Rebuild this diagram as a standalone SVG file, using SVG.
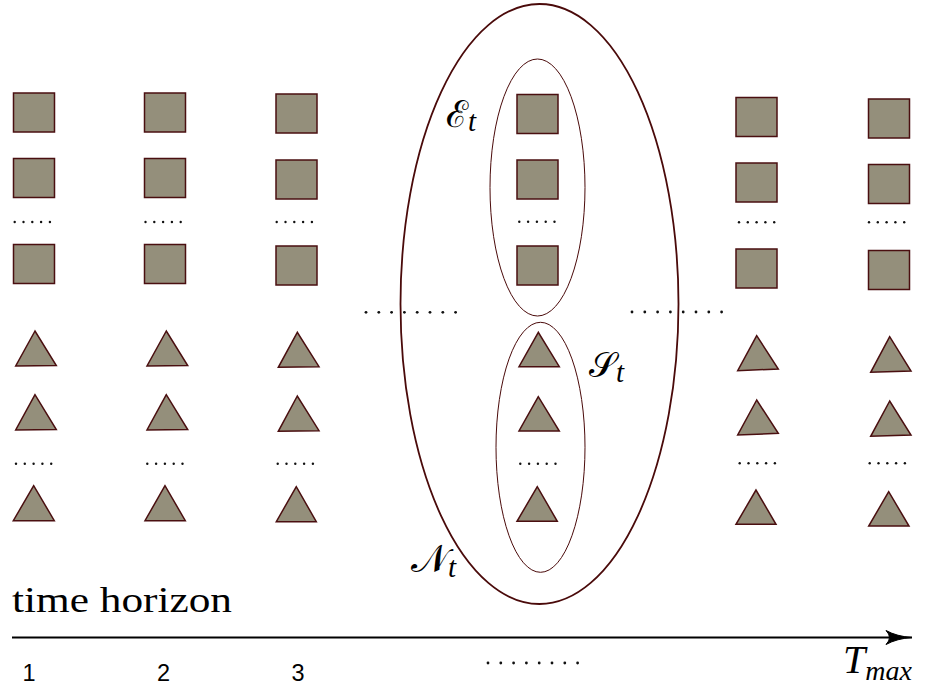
<svg xmlns="http://www.w3.org/2000/svg" xmlns:xlink="http://www.w3.org/1999/xlink" width="930" height="689" viewBox="0 0 930 689">
<style>
.sq{fill:#948f7b;stroke:#4a0f10;stroke-width:1.5}
.tri{fill:#948f7b;stroke:#4a0f10;stroke-width:1.5;stroke-linejoin:miter}
.ell{fill:none;stroke:#4a0a0a}
.dot{fill:#111}
.cal{font-family:"DejaVu Serif","Liberation Serif",serif;fill:#000}
.it{font-family:"Liberation Serif","DejaVu Serif",serif;font-style:italic;fill:#000}
.rm{font-family:"Liberation Serif","DejaVu Serif",serif;fill:#000}
.num{font-family:"Liberation Sans","DejaVu Sans",sans-serif;fill:#000;font-size:23.5px}
</style>
<defs>
<g id="d5"><circle class="dot" cx="0" cy="0" r="1.2"/><circle class="dot" cx="8.8" cy="0" r="1.2"/><circle class="dot" cx="17.6" cy="0" r="1.2"/><circle class="dot" cx="26.4" cy="0" r="1.2"/><circle class="dot" cx="35.2" cy="0" r="1.2"/></g>
<g id="d8"><circle class="dot" cx="0" cy="0" r="1.4"/><circle class="dot" cx="12.8" cy="0" r="1.4"/><circle class="dot" cx="25.6" cy="0" r="1.4"/><circle class="dot" cx="38.4" cy="0" r="1.4"/><circle class="dot" cx="51.2" cy="0" r="1.4"/><circle class="dot" cx="64" cy="0" r="1.4"/><circle class="dot" cx="76.8" cy="0" r="1.4"/><circle class="dot" cx="89.6" cy="0" r="1.4"/></g>
<marker id="arr" markerUnits="userSpaceOnUse" markerWidth="30" markerHeight="20" refX="27" refY="8" orient="auto" viewBox="0 0 30 16">
<path d="M27,8 Q12,9 1,15 Q8,8 1,1 Q12,7 27,8 Z" fill="#000" stroke="#000" stroke-width="1"/>
</marker>
</defs>

<!-- ellipses -->
<g id="N_t">
<ellipse class="ell" cx="539.5" cy="304" rx="139" ry="300" stroke-width="1.8"/>
<text x="411" y="572"><tspan class="cal" font-size="39">𝒩</tspan><tspan class="it" font-size="29" dy="5">t</tspan></text>
</g>
<g id="E_t">
<ellipse class="ell" cx="537.5" cy="187.5" rx="47.5" ry="128.5" stroke-width="1"/>
<text x="446" y="127"><tspan class="cal" font-size="37">ℰ</tspan><tspan class="it" font-size="29" dy="4">t</tspan></text>
</g>
<g id="S_t">
<ellipse class="ell" cx="540.5" cy="447.3" rx="44.5" ry="125" stroke-width="1"/>
<text x="589" y="377"><tspan class="cal" font-size="35">𝒮</tspan><tspan class="it" font-size="29" dy="5">t</tspan></text>
</g>

<!-- column 1 -->
<g id="col1">
<rect id="c1s1" class="sq" x="13.5" y="93" width="41" height="39"/>
<rect id="c1s2" class="sq" x="13.5" y="158.5" width="41" height="39"/>
<use xlink:href="#d5" x="14.7" y="222"/>
<rect id="c1s3" class="sq" x="13.5" y="244.5" width="41" height="39"/>
<polygon id="c1t1" class="tri" points="35,331 15.7,366 56.3,365.5"/>
<polygon id="c1t2" class="tri" points="35,394.7 15.7,430 56.3,429.5"/>
<use xlink:href="#d5" x="16" y="463.7"/>
<polygon id="c1t3" class="tri" points="33.7,485.7 13.3,520.7 54.3,520.7"/>
</g>
<!-- column 2 -->
<g id="col2">
<rect id="c2s1" class="sq" x="144.5" y="93" width="41" height="39"/>
<rect id="c2s2" class="sq" x="144.5" y="158.5" width="41" height="39"/>
<use xlink:href="#d5" x="145.5" y="222"/>
<rect id="c2s3" class="sq" x="144.5" y="244.5" width="41" height="39"/>
<polygon id="c2t1" class="tri" points="166.3,331 147,366 187.7,365.5"/>
<polygon id="c2t2" class="tri" points="166.3,394.7 147,430 187.7,429.5"/>
<use xlink:href="#d5" x="147.3" y="463.7"/>
<polygon id="c2t3" class="tri" points="165,485.7 145,520.7 185.3,520.7"/>
</g>
<!-- column 3 -->
<g id="col3">
<rect id="c3s1" class="sq" x="276" y="94" width="41" height="39"/>
<rect id="c3s2" class="sq" x="276" y="160" width="41" height="39"/>
<use xlink:href="#d5" x="276.7" y="222"/>
<rect id="c3s3" class="sq" x="276" y="246" width="41" height="39"/>
<polygon id="c3t1" class="tri" points="297.3,332.3 278.3,367.3 319,366.7"/>
<polygon id="c3t2" class="tri" points="297.3,396 278.3,431.3 319,430.7"/>
<use xlink:href="#d5" x="277.7" y="463.7"/>
<polygon id="c3t3" class="tri" points="296.3,486.7 276.3,521.7 316.3,521.7"/>
</g>
<!-- middle column -->
<g id="colt">
<rect id="cts1" class="sq" x="517" y="94.5" width="41" height="39"/>
<rect id="cts2" class="sq" x="517" y="160" width="41" height="39"/>
<use xlink:href="#d5" x="519.3" y="221.7"/>
<rect id="cts3" class="sq" x="517" y="246" width="41" height="39"/>
<polygon id="ctt1" class="tri" points="538.3,332.3 519,366.7 559.3,366.7"/>
<polygon id="ctt2" class="tri" points="538.3,396.7 519,431 559.3,431"/>
<use xlink:href="#d5" x="520.3" y="463.7"/>
<polygon id="ctt3" class="tri" points="537.3,486.7 517,521.3 557.3,521.3"/>
</g>
<!-- column 4 -->
<g id="col4">
<rect id="c4s1" class="sq" x="736" y="97.5" width="41" height="39"/>
<rect id="c4s2" class="sq" x="736" y="163" width="41" height="39"/>
<use xlink:href="#d5" x="739" y="222.3"/>
<rect id="c4s3" class="sq" x="736" y="249" width="41" height="39"/>
<polygon id="c4t1" class="tri" points="756.7,335.7 737.7,370.7 778.3,369"/>
<polygon id="c4t2" class="tri" points="756.7,400 737.7,435 778.3,433.3"/>
<use xlink:href="#d5" x="739.7" y="463.3"/>
<polygon id="c4t3" class="tri" points="756,490 736,524.3 776,524.3"/>
</g>
<!-- column 5 -->
<g id="col5">
<rect id="c5s1" class="sq" x="868.5" y="99" width="41" height="39"/>
<rect id="c5s2" class="sq" x="868.5" y="164.5" width="41" height="39"/>
<use xlink:href="#d5" x="869" y="222.3"/>
<rect id="c5s3" class="sq" x="868.5" y="250.5" width="41" height="39"/>
<polygon id="c5t1" class="tri" points="889.7,336.7 870.7,372.3 911,371"/>
<polygon id="c5t2" class="tri" points="889.7,401 870.7,436.3 911,435"/>
<use xlink:href="#d5" x="869.7" y="463.3"/>
<polygon id="c5t3" class="tri" points="888.7,491.7 868.7,526 909,526"/>
</g>

<!-- ellipsis between columns -->
<g id="gaps">
<use xlink:href="#d8" x="366" y="312.3"/>
<use xlink:href="#d8" x="632" y="312"/>
<use xlink:href="#d8" x="488" y="663"/>
</g>

<!-- connectors -->
<g id="connectors">
<line x1="12" y1="637.5" x2="912" y2="637.5" stroke="#000" stroke-width="2" marker-end="url(#arr)"/>
</g>

<!-- axis labels -->
<g id="axis-labels">
<text class="rm" x="12" y="612" font-size="35" textLength="220" lengthAdjust="spacingAndGlyphs">time horizon</text>
<text class="num" x="29" y="681" text-anchor="middle">1</text>
<text class="num" x="163.5" y="681" text-anchor="middle">2</text>
<text class="num" x="298" y="681" text-anchor="middle">3</text>
<text class="it" x="843" y="673" font-size="40">T<tspan font-size="28" dy="7">max</tspan></text>
</g>
</svg>
